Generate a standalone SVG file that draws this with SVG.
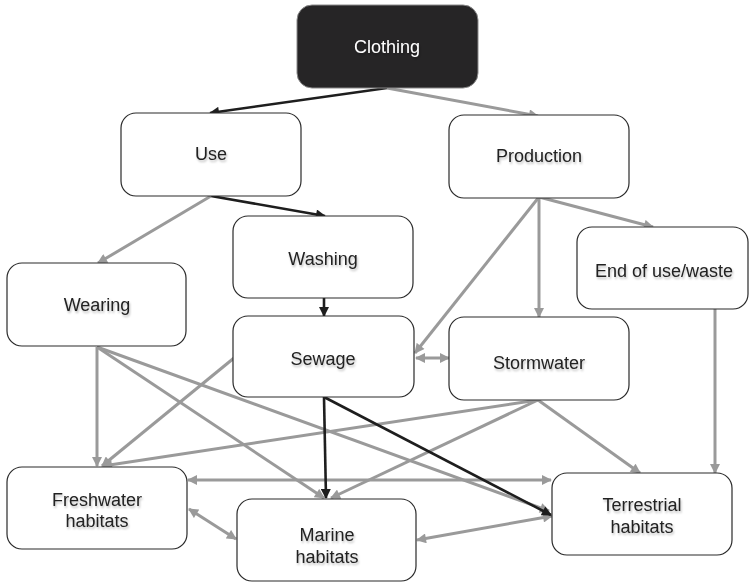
<svg xmlns="http://www.w3.org/2000/svg" width="749" height="582" viewBox="0 0 749 582">
<style>
.node{fill:#ffffff;stroke:#2a2a2a;stroke-width:1.2}
.dark{fill:#262526;stroke:#8a8a8a;stroke-width:1}
.lbl{font-family:"Liberation Sans",Arial,sans-serif;font-size:18px;fill:#222;text-anchor:middle;filter:url(#ts)}
.wl{fill:#ffffff}
.g{stroke:#9a9a9a;stroke-width:3;fill:none;marker-end:url(#ag)}
.gb{stroke:#9a9a9a;stroke-width:3;fill:none;marker-end:url(#ag);marker-start:url(#ag)}
.k{stroke:#1e1e1e;stroke-width:2.6;fill:none;marker-end:url(#ak)}
</style>
<defs>
<filter id="ts" x="-20%" y="-40%" width="140%" height="180%">
<feDropShadow dx="1" dy="2" stdDeviation="1.2" flood-color="#000" flood-opacity="0.25"/>
</filter>
<marker id="ag" viewBox="0 0 10 10" refX="9" refY="5" markerWidth="11" markerHeight="10" markerUnits="userSpaceOnUse" orient="auto-start-reverse">
<path d="M0,0 L10,5 L0,10 z" fill="#9a9a9a"/>
</marker>
<marker id="ak" viewBox="0 0 10 10" refX="9" refY="5" markerWidth="11" markerHeight="10" markerUnits="userSpaceOnUse" orient="auto-start-reverse">
<path d="M0,0 L10,5 L0,10 z" fill="#1e1e1e"/>
</marker>
</defs>
<g id="connectors">
<line class="k" x1="387" y1="88" x2="210" y2="113"/>
<line class="g" x1="387" y1="88" x2="538" y2="116"/>
<line class="k" x1="211" y1="196" x2="325" y2="216"/>
<line class="g" x1="211" y1="196" x2="98" y2="263"/>
<line class="k" x1="324" y1="298" x2="324" y2="316"/>
<line class="g" x1="539" y1="197" x2="415" y2="353"/>
<line class="g" x1="539" y1="197" x2="539" y2="317"/>
<line class="g" x1="539" y1="197" x2="653" y2="227"/>
<line class="gb" x1="416" y1="358" x2="449" y2="358"/>
<line class="g" x1="715" y1="309" x2="715" y2="473"/>
<line class="g" x1="97" y1="347" x2="97" y2="466"/>
<line class="g" x1="97" y1="347" x2="324" y2="498"/>
<line class="g" x1="97" y1="347" x2="549" y2="511"/>
<line class="g" x1="234" y1="358" x2="102" y2="466"/>
<line class="g" x1="538" y1="400" x2="103" y2="466"/>
<line class="g" x1="538" y1="400" x2="331" y2="498"/>
<line class="g" x1="538" y1="400" x2="640" y2="473"/>
<line class="gb" x1="188" y1="480" x2="551" y2="480"/>
<line class="gb" x1="189" y1="509" x2="236" y2="539"/>
<line class="gb" x1="417" y1="540" x2="552" y2="516"/>
<line class="k" x1="324" y1="397" x2="326" y2="498"/>
<line class="k" x1="324" y1="397" x2="551" y2="515"/>
</g>
<g id="clothing"><rect class="dark" x="297" y="5" width="181" height="83" rx="15"/><text class="lbl wl" x="387" y="53">Clothing</text></g>
<g id="use"><rect class="node" x="121" y="113" width="180" height="83" rx="15"/><text class="lbl" x="211" y="160">Use</text></g>
<g id="production"><rect class="node" x="449" y="115" width="180" height="83" rx="15"/><text class="lbl" x="539" y="162">Production</text></g>
<g id="washing"><rect class="node" x="233" y="216" width="180" height="82" rx="15"/><text class="lbl" x="323" y="265">Washing</text></g>
<g id="wearing"><rect class="node" x="7" y="263" width="179" height="83" rx="15"/><text class="lbl" x="97" y="311">Wearing</text></g>
<g id="end-of-use"><rect class="node" x="577" y="227" width="171" height="82" rx="15"/><text class="lbl" x="664" y="277">End of use/waste</text></g>
<g id="sewage"><rect class="node" x="233" y="316" width="181" height="81" rx="15"/><text class="lbl" x="323" y="365">Sewage</text></g>
<g id="stormwater"><rect class="node" x="449" y="317" width="180" height="83" rx="15"/><text class="lbl" x="539" y="369">Stormwater</text></g>
<g id="freshwater"><rect class="node" x="7" y="467" width="180" height="82" rx="15"/><text class="lbl" x="97" y="506">Freshwater</text><text class="lbl" x="97" y="527">habitats</text></g>
<g id="marine"><rect class="node" x="237" y="499" width="179" height="82" rx="15"/><text class="lbl" x="327" y="541">Marine</text><text class="lbl" x="327" y="563">habitats</text></g>
<g id="terrestrial"><rect class="node" x="552" y="473" width="180" height="82" rx="15"/><text class="lbl" x="642" y="511">Terrestrial</text><text class="lbl" x="642" y="533">habitats</text></g>
</svg>
